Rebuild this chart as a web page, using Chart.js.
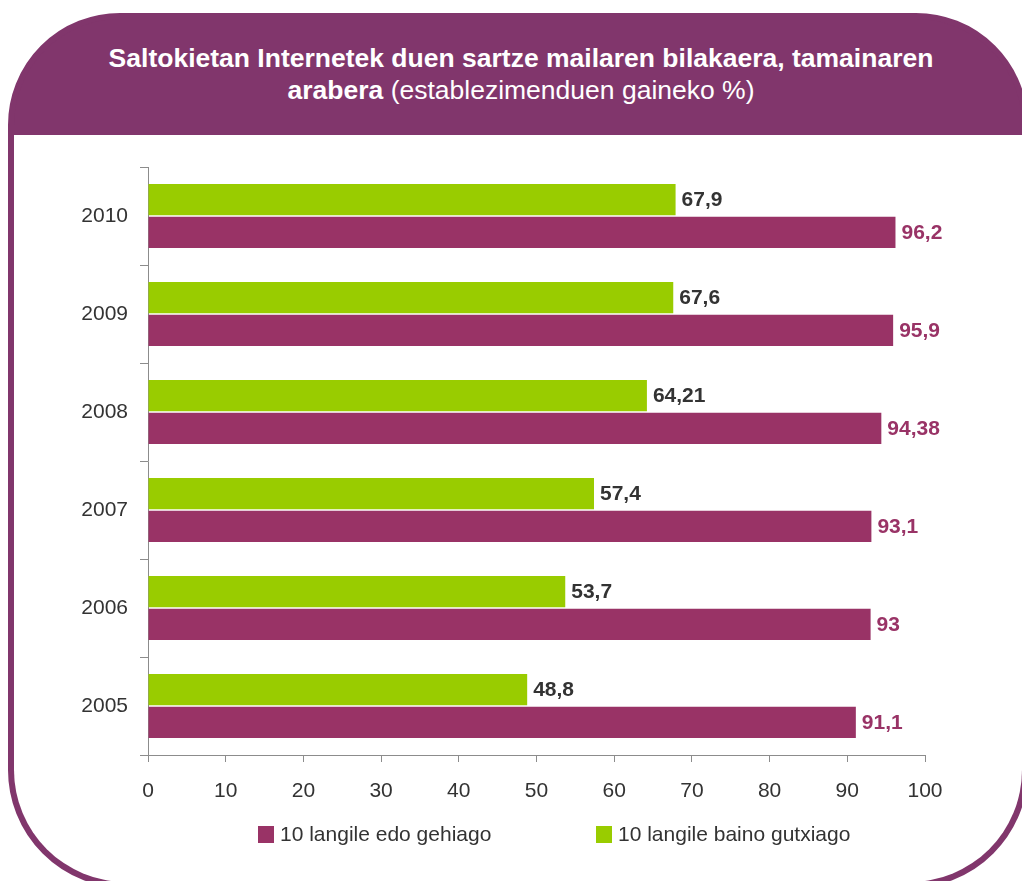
<!DOCTYPE html>
<html lang="eu">
<head>
    <meta charset="UTF-8">
    <title>Saltokietan Internetek duen sartze mailaren bilakaera</title>
    <script src="https://cdn.jsdelivr.net/npm/chart.js"></script>
    <style>
        body {
            margin: 0;
            width: 1022px;
            height: 881px;
            overflow: hidden;
            background: #ffffff;
            font-family: "Liberation Sans", Arial, sans-serif;
            position: relative;
        }
        .frame {
            position: absolute;
            left: 8px;
            top: 13px;
            width: 1020px;
            height: 875px;
            box-sizing: border-box;
            border: 6px solid #81366c;
            border-radius: 112px 112px 118px 118px;
            overflow: hidden;
            background: #81366c;
        }
        .header {
            height: 116px;
            color: #ffffff;
            text-align: center;
            font-size: 26.5px;
            line-height: 32px;
        }
        .header .t {
            position: relative;
            top: 23px;
            left: 3px;
        }
        .header b { font-weight: bold; }
        .body {
            position: absolute;
            left: 0;
            right: 0;
            top: 116px;
            bottom: 0;
            background: #ffffff;
        }
        #wrap {
            position: absolute;
            left: 0;
            top: 0;
            width: 1022px;
            height: 881px;
        }
        .legend {
            position: absolute;
            top: 822px;
            left: 0;
            width: 1022px;
            height: 24px;
            font-size: 21px;
            color: #333333;
        }
        .legend span.item {
            position: absolute;
            white-space: nowrap;
            line-height: 24px;
        }
        .legend i {
            display: inline-block;
            width: 16px;
            height: 17px;
            margin-right: 6px;
            vertical-align: -2px;
        }
    </style>
</head>
<body>
    <div class="frame">
        <div class="header">
            <div class="t"><b>Saltokietan Internetek duen sartze mailaren bilakaera, tamainaren<br>arabera</b> (establezimenduen gaineko %)</div>
        </div>
        <div class="body"></div>
    </div>
    <div id="wrap"><canvas id="chart" width="1022" height="881"></canvas></div>
    <div class="legend" id="legend"></div>

    <script>
        // Data
        const years = ['2010', '2009', '2008', '2007', '2006', '2005'];
        const smallShops = [67.9, 67.6, 64.21, 57.4, 53.7, 48.8];   // 10 langile baino gutxiago
        const bigShops = [96.2, 95.9, 94.38, 93.1, 93, 91.1];       // 10 langile edo gehiago
        const xTicks = [0, 10, 20, 30, 40, 50, 60, 70, 80, 90, 100];

        const green = '#99cc00';
        const purple = '#993366';
        const axisGrey = '#8c8c8c';
        const textGrey = '#333333';

        // value labels next to the bars, with comma decimals
        const valueLabels = {
            id: 'valueLabels',
            afterDatasetsDraw(chart) {
                const ctx = chart.ctx;
                ctx.save();
                ctx.font = 'bold 21px "Liberation Sans", Arial, sans-serif';
                ctx.textBaseline = 'middle';
                ctx.textAlign = 'left';
                chart.data.datasets.forEach(function(ds, i) {
                    const meta = chart.getDatasetMeta(i);
                    ctx.fillStyle = ds.labelColor;
                    meta.data.forEach(function(bar, j) {
                        const txt = String(ds.data[j]).replace('.', ',');
                        ctx.fillText(txt, bar.x + 6, bar.y + 1);
                    });
                });
                ctx.restore();
            }
        };

        const chart = new Chart(document.getElementById('chart').getContext('2d'), {
            type: 'bar',
            data: {
                labels: years,
                datasets: [
                    {
                        label: '10 langile baino gutxiago',
                        data: smallShops,
                        backgroundColor: green,
                        labelColor: textGrey,
                        categoryPercentage: 0.67,
                        barPercentage: 0.955
                    },
                    {
                        label: '10 langile edo gehiago',
                        data: bigShops,
                        backgroundColor: purple,
                        labelColor: purple,
                        categoryPercentage: 0.67,
                        barPercentage: 0.955
                    }
                ]
            },
            options: {
                indexAxis: 'y',
                responsive: false,
                animation: false,
                layout: {
                    padding: { top: 167, right: 97, bottom: 66, left: 0 }
                },
                plugins: {
                    legend: { display: false },
                    tooltip: { enabled: false }
                },
                scales: {
                    x: {
                        min: 0,
                        max: 100,
                        afterBuildTicks: function(axis) {
                            axis.ticks = xTicks.map(function(v) { return { value: v }; });
                        },
                        afterFit: function(axis) { axis.height = 60; },
                        border: { display: true, color: axisGrey, width: 1 },
                        grid: {
                            drawOnChartArea: false,
                            drawTicks: true,
                            tickLength: 7,
                            color: axisGrey
                        },
                        ticks: {
                            color: textGrey,
                            padding: 17,
                            font: { family: '"Liberation Sans", Arial, sans-serif', size: 21 }
                        }
                    },
                    y: {
                        afterFit: function(axis) { axis.width = 148; },
                        border: { display: true, color: axisGrey, width: 1 },
                        grid: {
                            drawOnChartArea: false,
                            drawTicks: true,
                            tickLength: 8,
                            offset: true,
                            color: axisGrey
                        },
                        ticks: {
                            color: textGrey,
                            padding: 12,
                            font: { family: '"Liberation Sans", Arial, sans-serif', size: 21 }
                        }
                    }
                }
            },
            plugins: [valueLabels]
        });

        // HTML legend, purple series first like the original
        const legendItems = [
            { name: chart.data.datasets[1].label, color: purple, left: 258 },
            { name: chart.data.datasets[0].label, color: green, left: 596 }
        ];
        const legendEl = document.getElementById('legend');
        legendItems.forEach(function(item) {
            const span = document.createElement('span');
            span.className = 'item';
            span.style.left = item.left + 'px';
            const box = document.createElement('i');
            box.style.background = item.color;
            span.appendChild(box);
            span.appendChild(document.createTextNode(item.name));
            legendEl.appendChild(span);
        });
    </script>
</body>
</html>
